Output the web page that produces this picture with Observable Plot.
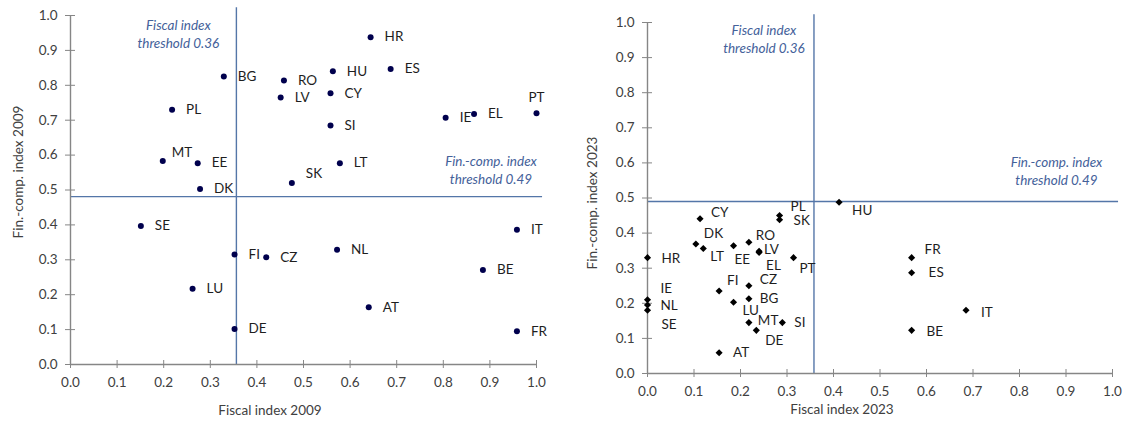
<!DOCTYPE html>
<html><head><meta charset="utf-8">
<script src="https://cdn.jsdelivr.net/npm/d3@7"></script>
<script src="https://cdn.jsdelivr.net/npm/@observablehq/plot@0.6"></script>
<style>
body{margin:0;background:#fff;}
#wrap{position:relative;width:1126px;height:421px;font-family:Lato,"Open Sans",sans-serif;overflow:hidden;}
.panel{position:absolute;top:0;}
.xt{position:absolute;font-size:13.5px;color:#404040;transform:translate(-50%,-50%);white-space:nowrap;}
.yt{position:absolute;font-size:13.5px;color:#404040;transform:translate(-50%,-50%) rotate(-90deg);white-space:nowrap;}
</style></head><body>
<div id="wrap"></div>
<script>
// ---------- data ----------
const countries2009 = ["BG","PL","MT","EE","DK","HR","ES","HU","RO","LV","CY","SI","IE","EL","PT","LT","SK","SE","FI","CZ","LU","DE","IT","NL","BE","AT","FR"];
const fiscal2009  = [0.329,0.218,0.198,0.273,0.278,0.644,0.687,0.563,0.458,0.451,0.558,0.558,0.805,0.866,1.000,0.578,0.475,0.151,0.352,0.420,0.262,0.352,0.958,0.572,0.885,0.640,0.958];
const fincomp2009 = [0.825,0.730,0.583,0.577,0.503,0.938,0.847,0.840,0.814,0.765,0.777,0.685,0.707,0.718,0.720,0.577,0.520,0.397,0.315,0.307,0.217,0.102,0.386,0.329,0.271,0.164,0.095];

const countries2023 = ["CY","PL","SK","DK","LT","EE","RO","LV","EL","PT","HR","FI","CZ","BG","LU","IE","NL","SE","MT","SI","DE","AT","HU","FR","ES","IT","BE"];
const fiscal2023  = [0.113,0.284,0.284,0.104,0.120,0.185,0.218,0.240,0.240,0.314,0.000,0.154,0.218,0.218,0.185,0.000,0.000,0.000,0.218,0.290,0.234,0.154,0.412,0.568,0.568,0.685,0.568];
const fincomp2023 = [0.441,0.450,0.438,0.369,0.356,0.364,0.374,0.348,0.345,0.330,0.330,0.235,0.250,0.213,0.203,0.210,0.195,0.180,0.145,0.145,0.123,0.059,0.488,0.330,0.287,0.180,0.123];

const fiscalThreshold2009 = 0.356;
const fincompThreshold2009 = 0.481;
const fiscalThreshold2023 = 0.358;
const fincompThreshold2023 = 0.49;
const fiscalThresholdLabel = "Fiscal index\nthreshold 0.36";
const fincompThresholdLabel = "Fin.-comp. index\nthreshold 0.49";

const axisTicks = [0,0.1,0.2,0.3,0.4,0.5,0.6,0.7,0.8,0.9,1.0];
const xTitle2009 = "Fiscal index 2009", yTitle2009 = "Fin.-comp. index 2009";
const xTitle2023 = "Fiscal index 2023", yTitle2023 = "Fin.-comp. index 2023";

// ---------- label placement (layout, not data) ----------
const nudge2009 = {MT:[9,-8,"start"], PT:[0,-16,"middle"], SK:[14,-9,"start"]};
const nudge2023 = {CY:[11,-6],PL:[11,-9],SK:[14,1],DK:[8,-10],LT:[7,8],EE:[1,14],RO:[7,-7],LV:[5,-2],EL:[7,13],PT:[6,11],
  HR:[14,1],FI:[8,-10],CZ:[11,-6],BG:[11,0],LU:[9,8],IE:[13,-11],NL:[13,1],SE:[14,14],MT:[9,-2],SI:[12,0],DE:[9,10],AT:[14,0],
  HU:[13,8],FR:[13,-8],ES:[17,0],IT:[15,2],BE:[15,1]};

const FONT = 13.5;
const AXIS = "#868686", TICKTXT = "#404040", LAB = "#1e1e1e", THR = "#5476a8", THRTXT = "#44619a";

function panel({countries, fx, fy, nudge, defNudge, dotOpts, fThr, cThr, width, mL, mR, mT, mB, fDx, fDy, cDx, cDy}) {
  const idx = countries.map((_, i) => i);
  const labels = idx.map(i => {
    const n = nudge[countries[i]] || defNudge;
    return Plot.text([i], {x: j => fx[j], y: j => fy[j], text: j => countries[j],
      dx: n[0], dy: n[1], textAnchor: n[2] || "start", fill: LAB, fontSize: FONT});
  });
  return Plot.plot({
    width, height: 421, marginLeft: mL, marginRight: mR, marginTop: mT, marginBottom: mB,
    style: {fontFamily: "Lato, 'Open Sans', sans-serif", background: "transparent", overflow: "visible"},
    x: {domain: [0, 1]}, y: {domain: [0, 1]},
    marks: [
      Plot.ruleX([fThr], {y1: 0, y2: 1.022, stroke: THR, strokeWidth: 1.4}),
      Plot.ruleY([cThr], {x1: 0, x2: 1.013, stroke: THR, strokeWidth: 1.4}),
      Plot.ruleX([0], {stroke: AXIS, strokeWidth: 1.4}),
      Plot.ruleY([0], {stroke: AXIS, strokeWidth: 1.4}),
      Plot.axisY({ticks: axisTicks, tickFormat: d3.format(".1f"), tickSize: 10, dx: 5, tickPadding: 8,
        stroke: AXIS, fill: TICKTXT, fontSize: FONT, label: null}),
      Plot.axisX({ticks: axisTicks, tickFormat: d3.format(".1f"), tickSize: 8, dy: -4, tickPadding: 9,
        stroke: AXIS, fill: TICKTXT, fontSize: FONT, label: null}),
      Plot.text([fThr], {x: d => d, frameAnchor: "top", lineAnchor: "top", text: () => fiscalThresholdLabel,
        dx: fDx, dy: fDy, fontStyle: "italic", fill: THRTXT, fontSize: FONT, lineHeight: 1.3, textAnchor: "middle"}),
      Plot.text([cThr], {y: d => d, frameAnchor: "right", lineAnchor: "bottom", text: () => fincompThresholdLabel,
        dx: cDx, dy: cDy, fontStyle: "italic", fill: THRTXT, fontSize: FONT, lineHeight: 1.3, textAnchor: "middle"}),
      Plot.dot(idx, {x: i => fx[i], y: i => fy[i], ...dotOpts}),
      ...labels
    ]
  });
}

const wrap = document.getElementById("wrap");

const left = panel({countries: countries2009, fx: fiscal2009, fy: fincomp2009, nudge: nudge2009, defNudge: [14,0,"start"],
  dotOpts: {r: 3, fill: "#00004d", stroke: "none"}, fThr: fiscalThreshold2009, cThr: fincompThreshold2009,
  width: 560, mL: 70, mR: 24, mT: 15, mB: 57, fDx: -58, fDy: 2, cDx: -45.5, cDy: -13});
left.classList.add("panel"); left.style.left = "0px";
wrap.appendChild(left);

const right = panel({countries: countries2023, fx: fiscal2023, fy: fincomp2023, nudge: nudge2023, defNudge: [14,0,"start"],
  dotOpts: {r: 3.2, symbol: "diamond2", fill: "#000", stroke: "none"}, fThr: fiscalThreshold2023, cThr: fincompThreshold2023,
  width: 563, mL: 84, mR: 14, mT: 22, mB: 48, fDx: -50, fDy: 0, cDx: -56, cDy: -17});
right.classList.add("panel"); right.style.left = "563px";
wrap.appendChild(right);

function title(cls, text, x, y) {
  const d = document.createElement("div");
  d.className = cls; d.textContent = text; d.style.left = x + "px"; d.style.top = y + "px";
  wrap.appendChild(d);
}
title("xt", xTitle2009, 270, 410);
title("yt", yTitle2009, 18, 172);
title("xt", xTitle2023, 842, 409);
title("yt", yTitle2023, 592, 203);
</script>
</body></html>
